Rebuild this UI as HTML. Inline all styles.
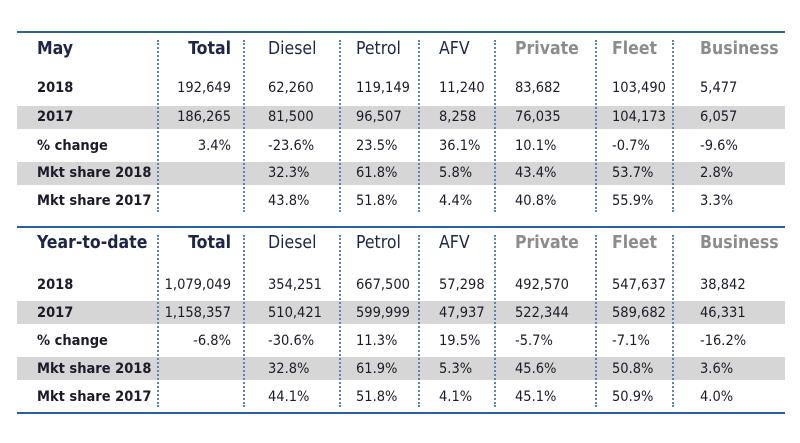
<!DOCTYPE html>
<html><head><meta charset="utf-8"><style>
body{margin:0;background:#fff;width:800px;height:443px;position:relative;overflow:hidden;font-family:"DejaVu Sans Condensed","Liberation Sans",sans-serif;color:#1b1b2a}
.ln{position:absolute;left:17px;width:768px;height:2px;background:#2b5ea3}
.band{position:absolute;left:17px;width:768px;height:23px;background:#d6d6d6}
.dv{position:absolute;width:0;border-left:2px dotted #5a84b8}
.t{position:absolute;font-size:14.5px;line-height:16px;white-space:nowrap}
.h{position:absolute;font-size:17.5px;line-height:20px;white-space:nowrap}
.b{font-weight:bold}
.nv{color:#1d2548}
.g{color:#8c8c8c;font-weight:bold}
.r{text-align:right}
</style></head><body>
<div class="ln" style="top:31px"></div>
<div class="ln" style="top:226px"></div>
<div class="ln" style="top:412px"></div>
<div class="band" style="top:106px"></div>
<div class="band" style="top:162px"></div>
<div class="band" style="top:301px"></div>
<div class="band" style="top:357px"></div>
<div id="c"></div>
<script>
var xs=[157,243,339,418,494,595,672];
var c=document.getElementById('c'),h='';
[[40,212],[235,407]].forEach(function(r){xs.forEach(function(x){h+='<div class="dv" style="left:'+x+'px;top:'+r[0]+'px;height:'+(r[1]-r[0])+'px"></div>';});});
var cols=[268,356,439,515,612,700];
function tbl(title,hy,ys,rows){
h+='<div class="h b nv" style="left:37px;top:'+(hy-10)+'px">'+title+'</div>';
h+='<div class="h b nv r" style="left:131px;width:100px;top:'+(hy-10)+'px">Total</div>';
var hd=['Diesel','Petrol','AFV','Private','Fleet','Business'];
hd.forEach(function(s,i){h+='<div class="h '+(i>=3?'g':'nv')+'" style="left:'+cols[i]+'px;top:'+(hy-10)+'px">'+s+'</div>';});
rows.forEach(function(r,j){var y=ys[j]-8;
h+='<div class="t b" style="left:37px;top:'+y+'px">'+r[0]+'</div>';
h+='<div class="t r" style="left:131px;width:100px;top:'+y+'px">'+r[1]+'</div>';
for(var i=0;i<6;i++)h+='<div class="t" style="left:'+cols[i]+'px;top:'+y+'px">'+r[i+2]+'</div>';});
}
tbl('May',49,[88,117,146,173,201],[
['2018','192,649','62,260','119,149','11,240','83,682','103,490','5,477'],
['2017','186,265','81,500','96,507','8,258','76,035','104,173','6,057'],
['% change','3.4%','-23.6%','23.5%','36.1%','10.1%','-0.7%','-9.6%'],
['Mkt share 2018','','32.3%','61.8%','5.8%','43.4%','53.7%','2.8%'],
['Mkt share 2017','','43.8%','51.8%','4.4%','40.8%','55.9%','3.3%']]);
tbl('Year-to-date',243,[285,313,341,369,397],[
['2018','1,079,049','354,251','667,500','57,298','492,570','547,637','38,842'],
['2017','1,158,357','510,421','599,999','47,937','522,344','589,682','46,331'],
['% change','-6.8%','-30.6%','11.3%','19.5%','-5.7%','-7.1%','-16.2%'],
['Mkt share 2018','','32.8%','61.9%','5.3%','45.6%','50.8%','3.6%'],
['Mkt share 2017','','44.1%','51.8%','4.1%','45.1%','50.9%','4.0%']]);
c.innerHTML=h;
</script>
</body></html>
